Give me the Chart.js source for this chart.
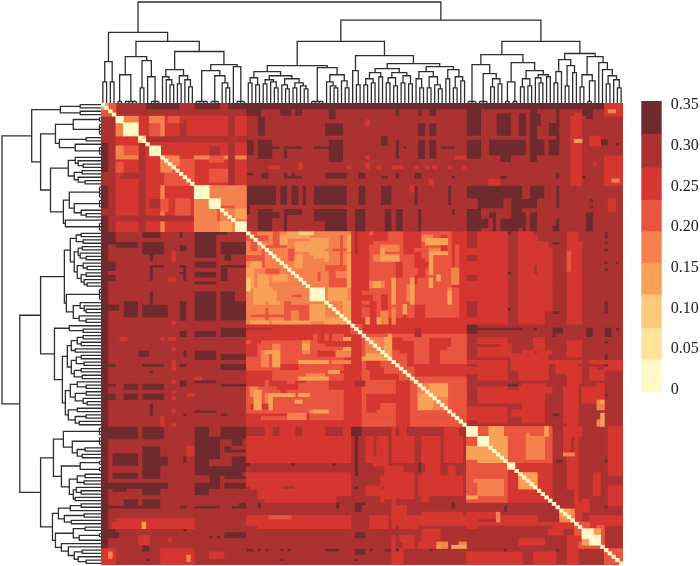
<!DOCTYPE html>
<html>
<head>
<meta charset="utf-8">
<title>Distance heatmap</title>
<script src="https://cdn.jsdelivr.net/npm/chart.js@4"></script>
<style>
    html, body { margin: 0; padding: 0; background: #fff; }
    body { position: relative; width: 700px; height: 566px; overflow: hidden; }
    canvas { position: absolute; }
    #heat { left: 101px; top: 103px; background: #ab3230; filter: blur(0.35px); }
    #topTree { left: 101px; top: 0; filter: blur(0.3px); }
    #leftTree { left: 0; top: 103px; filter: blur(0.3px); }
    #legend { left: 630px; top: 80px; }
</style>
</head>
<body>
<canvas id="topTree" width="522" height="103"></canvas>
<canvas id="leftTree" width="101" height="462"></canvas>
<canvas id="heat" width="522" height="462"></canvas>
<canvas id="legend" width="70" height="340"></canvas>
<script>
// --- Data ---

const leafCount = 140;

// colour classes, palest (index 0) to darkest (index 8)
const levelColors = ['#fff9c8', '#fee39a', '#fdc97a', '#f8a258', '#f4824f', '#ea5540', '#d5362f', '#ab3230', '#6f2a2d'];
const backgroundLevel = 7;
const diagonalLevel = 0;

// legend
const legendBreaks = [-0.0021, 0.0369, 0.0758, 0.1167, 0.1556, 0.1945, 0.2334, 0.2731, 0.3141, 0.355];
const legendTicks = [0, 0.05, 0.10, 0.15, 0.20, 0.25, 0.30, 0.35];

// the matrix is symmetric. every entry: [level, firstRow, lastRow, firstCol, lastCol], later ones on top
const blockPatches = [
    [6,0,38,0,38], [7,0,3,0,38], [5,0,3,0,3], [3,0,1,0,1],
    [7,10,11,12,38], [5,17,23,17,24], [4,16,18,17,20], [4,16,16,25,38], [4,4,9,16,16],
    [4,4,5,4,9], [4,4,5,13,15], [5,6,9,13,15], [5,4,5,18,20], [6,4,4,21,24], [7,6,9,21,21],
    [7,13,15,29,31], [5,16,17,29,32], [5,29,33,20,23],
    [7,34,35,0,24], [7,4,24,34,34], [7,22,22,5,9],
    [4,25,38,25,38], [3,32,34,36,38], [3,36,38,32,34], [5,31,31,32,35],

    [4,39,66,39,66], [5,39,66,67,97], [5,67,97,67,97], [5,70,97,39,66],
    [6,39,66,67,69], [7,70,97,67,69], [6,67,69,39,66], [6,67,69,70,97], [7,68,68,39,45],
    [6,39,66,96,97], [6,70,97,65,66],

    [6,39,66,98,109], [6,39,62,112,115], [6,44,62,117,120], [6,42,66,125,128],
    [7,39,43,98,100], [7,46,49,98,100], [7,60,64,98,100], [7,52,53,98,100], [7,42,43,98,100],
    [7,39,66,109,111], [6,63,66,112,118],

    [6,98,120,98,120], [5,108,120,98,108], [5,98,108,109,120], [4,114,118,100,107], [4,100,107,114,118],
    [5,98,100,101,103], [3,98,100,104,107], [3,101,107,104,108], [3,104,107,98,103],
    [5,98,100,115,120], [3,98,100,119,119], [3,112,115,112,116],
    [4,123,126,123,126], [6,121,127,127,128], [3,124,125,123,124], [5,135,139,135,139],
    [5,127,133,128,134], [3,129,133,131,133]
];

const fleckPatches = [
    // inside the upper orange block
    [3,39,40,50,55], [2,39,39,53,56], [3,42,44,52,55], [3,45,47,57,60], [5,41,41,57,60],
    [5,46,47,39,43], [5,49,50,60,66], [5,53,55,61,66], [5,61,62,50,55], [5,64,64,40,48],
    [5,43,43,44,49], [5,40,41,39,44], [5,50,51,44,47], [5,44,44,62,65], [5,58,58,50,53],
    [3,56,60,41,43], [3,56,59,44,45], [3,48,49,40,42], [3,52,53,46,49], [3,56,59,61,65],
    [3,66,66,40,44], [3,66,66,46,55], [3,65,66,60,66], [4,56,59,47,50],
    // orange block against its neighbour
    [4,40,41,84,88], [4,44,45,88,92], [4,45,50,88,88], [4,46,47,73,78], [4,43,44,75,79],
    [4,53,58,78,78], [4,54,55,72,75], [4,55,59,82,82], [4,53,55,88,88], [4,56,60,93,93],
    [4,61,66,75,76], [4,62,66,78,78], [3,65,66,71,74],
    [6,39,43,84,85], [6,47,51,85,86], [6,62,66,84,86], [6,62,65,81,81], [6,52,54,84,84],
    [6,61,61,68,73], [6,40,44,91,92], [6,52,55,94,95], [6,58,59,70,72],
    // middle band
    [6,70,71,39,56], [6,70,72,40,42], [6,73,76,39,41], [6,81,83,39,45], [6,85,86,49,52],
    [6,84,87,48,49], [6,85,86,61,64], [6,84,84,61,66], [6,84,85,45,49],
    [4,76,76,43,44], [3,78,78,53,60], [3,75,79,46,47], [3,73,74,54,55], [3,75,75,44,45],
    [3,83,83,53,60], [3,81,81,61,63], [6,75,76,58,62], [6,72,73,60,66], [6,79,80,48,52],
    [3,87,92,41,42], [3,88,88,45,51], [3,88,92,45,45], [3,88,88,53,55], [3,93,93,57,60],
    [3,90,90,52,53], [6,94,94,39,50], [6,95,96,39,42], [6,96,96,55,60], [4,94,95,50,54],
    [4,71,77,71,77], [3,72,73,76,77], [3,70,77,77,77], [3,76,76,71,76],
    [6,72,75,80,83], [6,78,80,71,74], [6,82,83,76,79], [6,74,78,88,90], [6,71,73,91,93],
    [6,84,97,79,82], [6,88,92,71,74], [7,84,85,68,70],
    [4,85,92,85,92], [3,88,92,85,88], [3,85,88,89,92],
    // lower part of the middle band against the right blocks
    [6,71,72,101,103], [6,74,75,101,104], [6,73,76,107,109], [6,72,74,116,117], [6,72,76,125,128],
    [6,75,75,113,115], [6,75,75,117,120],
    [6,78,78,98,102], [6,78,78,110,121], [6,78,78,123,128], [6,78,78,131,139],
    [6,80,81,98,102], [6,79,79,104,108], [6,80,83,112,119], [6,80,84,125,128], [6,81,83,131,134],
    [6,80,80,136,139], [6,86,88,101,104], [6,86,87,112,120], [6,86,88,125,127],
    [6,87,90,106,114], [6,92,95,98,103], [6,93,94,110,118], [6,85,97,125,127], [6,86,90,129,134],
    // left matrix columns against the rows below
    [6,101,108,71,72], [6,101,108,74,76], [6,101,108,78,83], [6,101,108,86,90], [6,101,108,92,96],
    [6,98,108,48,50], [6,110,119,76,80], [6,113,118,85,96], [6,122,127,78,81], [6,124,127,86,96],
    [6,133,134,85,90], [4,133,134,90,92], [4,133,134,96,97], [6,131,139,78,78], [6,135,139,79,80],
    [6,131,132,80,81], [6,112,116,40,48], [6,112,116,52,64], [6,117,119,42,50], [6,118,119,55,62],
    [6,125,127,39,66], [5,125,125,45,50], [6,116,118,71,74],
    // right blocks
    [6,98,112,136,139], [6,116,121,136,139], [6,125,127,132,139], [4,104,105,125,125],
    [3,90,92,134,134], [3,94,97,134,134], [4,134,134,91,92], [3,134,134,95,97],
    [6,124,125,101,106], [6,125,126,107,116], [4,124,126,106,106], [6,127,127,98,120],
    [6,132,133,112,118], [6,136,139,101,112], [6,124,128,98,100],
    [6,131,132,125,128], [6,129,130,120,123],
    // bright rows and columns at the far end
    [6,126,128,4,24], [3,127,128,11,11], [6,131,132,10,12], [6,132,132,18,18],
    [6,135,139,0,2], [3,136,137,1,2], [6,135,138,16,24], [6,136,137,29,32],
    [6,1,3,135,139], [4,2,2,136,137], [6,16,24,136,139], [4,23,23,137,138],
    [6,3,9,127,128], [6,15,19,127,128], [6,23,24,126,128], [6,10,12,131,133], [6,23,24,104,106],
    [6,19,19,45,47], [6,18,19,53,53], [6,19,19,66,66], [6,18,19,71,71], [6,19,19,74,74],
    [6,19,19,78,80], [6,19,19,84,84], [6,19,19,87,87], [6,19,19,89,89], [6,19,19,93,93],
    [6,19,19,97,97], [6,16,16,95,97], [6,16,16,71,71], [6,5,6,71,71], [6,25,26,83,84], [6,23,24,88,88]
];

const darkPatches = [
    [8,0,1,39,134], [8,0,1,12,20], [8,0,1,25,31], [8,0,1,36,38],
    [8,12,20,0,1], [8,34,38,0,1],
    [8,2,3,39,42], [8,2,3,48,50], [8,2,3,52,53], [8,2,4,61,62], [8,2,3,79,79], [8,2,3,85,85], [8,2,3,88,89],
    [8,4,5,42,43], [8,6,9,42,43], [8,6,9,60,64], [8,10,12,75,76], [8,6,9,85,86], [8,6,9,88,89],
    [8,2,9,98,101], [8,3,9,106,109], [8,3,9,112,113], [8,2,12,115,116], [8,3,6,117,117],
    [8,6,9,120,121], [8,2,15,122,122], [8,1,3,129,131],
    [8,11,16,98,100], [8,11,15,104,113], [8,16,17,107,109], [8,11,17,115,116], [8,11,15,117,118],
    [8,11,15,120,121], [8,11,12,134,135], [8,12,12,138,138],
    [8,11,15,39,40], [8,11,16,42,45], [8,13,13,46,47], [8,13,13,49,53], [8,13,16,49,49],
    [8,13,13,57,64], [8,11,17,61,64], [8,11,16,79,79], [8,13,13,81,81], [8,11,16,85,86],
    [8,11,16,88,89], [8,13,13,91,92], [8,13,13,93,94], [8,11,16,101,101],
    [8,21,21,39,40], [8,21,22,43,44], [8,22,22,49,53], [8,21,21,49,49], [8,21,21,51,51],
    [8,21,22,60,65], [8,21,22,69,70], [8,22,22,75,76], [8,21,22,79,79], [8,21,22,84,85],
    [8,22,22,94,94], [8,22,22,107,108], [8,21,22,122,122], [8,22,22,129,129],
    [8,25,30,39,46], [8,25,30,48,49], [8,25,30,51,52], [8,25,30,54,54], [8,25,30,57,65],
    [8,25,30,69,70], [8,25,30,75,77], [8,25,30,84,84], [8,25,30,93,93], [8,25,28,98,109],
    [8,29,31,101,107], [8,25,34,110,112], [8,29,31,113,116], [8,25,28,115,116], [8,25,28,117,118],
    [8,25,31,122,122], [8,32,33,98,100], [8,33,34,104,105], [8,33,34,113,113], [8,33,34,115,116],
    [8,35,37,98,103], [8,35,37,105,105], [8,35,37,107,109], [8,35,37,110,112], [8,35,37,113,113],
    [8,35,37,115,116], [8,35,37,122,122], [8,33,37,130,131], [8,38,38,109,109],
    [8,31,33,39,39], [8,32,38,42,45], [8,33,34,46,47], [8,32,38,49,49], [8,32,33,50,53],
    [8,32,35,57,60], [8,32,38,60,65], [8,32,38,68,70], [8,32,38,76,77], [8,32,38,79,80],
    [8,32,38,85,85], [8,32,33,94,94], [8,32,33,98,101], [8,34,38,98,101],
    [8,37,37,98,103], [8,37,38,105,105], [8,37,38,107,108], [8,37,38,110,111], [8,37,38,113,113],
    [8,37,38,115,116], [8,37,38,121,122], [8,37,38,130,131],
    [8,40,40,135,135], [8,42,42,135,135], [8,44,44,135,135], [8,48,48,135,135], [8,48,48,138,138],
    [8,50,50,135,135], [8,60,62,135,135], [8,42,42,121,122], [8,51,51,109,109], [8,62,62,109,109],
    [8,63,63,121,122],
    [8,67,69,98,100], [8,68,68,98,103], [8,68,68,106,112], [8,68,70,121,121], [8,69,70,130,131],
    [8,68,70,135,136], [8,68,68,138,138], [8,85,85,109,111],
    [8,109,109,39,39], [8,109,109,51,51], [8,109,109,62,62], [8,109,111,85,85],
    [8,100,112,68,68], [8,98,100,68,69], [8,116,116,68,68],
    [8,121,121,37,38], [8,121,121,42,42], [8,121,121,63,63], [8,121,121,68,70], [8,122,123,68,69],
    [8,121,121,94,94], [8,130,131,37,38], [8,130,131,68,70],
    [8,135,135,39,39], [8,135,135,42,42], [8,135,135,44,44], [8,135,135,48,48], [8,135,135,50,50],
    [8,135,135,60,63], [8,135,135,68,70], [8,135,135,72,72], [8,135,135,76,77], [8,135,135,79,79],
    [8,135,135,88,88], [8,136,136,70,70], [8,138,138,48,48], [8,138,138,68,68],
    [8,94,94,122,122], [8,108,108,122,123], [8,123,123,108,108], [8,88,88,135,135],
    [8,108,108,135,135], [8,122,122,135,135],
    [8,130,131,0,4], [8,131,131,29,29], [8,131,131,31,31], [8,130,131,33,38], [8,135,135,11,12]
];

// pale squares along the diagonal
const paleBlocks = [
    [0,4,5,4,5], [0,6,9,6,9], [0,13,15,13,15], [0,25,28,25,28], [0,29,31,29,31], [0,36,38,36,38],
    [0,56,59,56,59], [0,98,100,98,100], [0,101,103,101,103], [0,109,110,109,110],
    [0,130,131,129,130], [0,132,133,131,132], [2,10,11,10,11]
];

// cluster tree, shared by both dendrograms: [height, left, right].
// a plain number is that many leaves joined almost at the bottom
const branchA = [70,
    [41, [21,1,1], [21,1,1]],
    [61,
        [46, [28,2,4], [42, [15,1,1], [26,1,3]]],
        [51,
            [33, [26,1,[23,1,[18,1,1]]], [27,[19,1,1],[23,1,[16,1,1]]]],
            [38, [32,4,[27,3,[20,1,[15,1,1]]]], [36,1,3]]
        ]
    ]
];
const branchB1 = [61,
    [37,
        [31,
            [25,[20,1,1],[18,1,1]],
            [27,[23,[19,1,1],[21,1,[15,1,1]]],[24,[18,1,[14,1,1]],[20,[15,1,1],[17,1,[14,1,1]]]]]
        ],
        [35,4,[28,[21,1,[17,1,[15,1,1]]],[22,1,[15,1,1]]]]
    ],
    [47,
        [32,1,[18,1,1]],
        [39,
            [34,
                [30,[24,[18,1,1],[20,1,1]],[26,1,1]],
                [30,[25,[20,1,1],[17,1,1]],[27,[20,1,1],[19,1,1]]]
            ],
            [36,
                [31,[24,1,[15,1,1]],[26,[15,1,1],[18,1,[14,1,1]]]],
                [33,[24,1,1],[26,[15,1,1],[22,1,1]]]
            ]
        ]
    ]
];
const branchB2 = [61,
    [48,
        [38,3,[29,3,[24,[16,1,1],[19,1,1]]]],
        [40,
            [21,2,2],
            [32,[24,[16,1,1],[17,1,1]],[28,[25,1,[20,1,1]],[26,1,1]]]
        ]
    ],
    [49,
        [43,[31,[20,1,1],1],[37,[17,1,1],[30,1,1]]],
        [46,
            [28,[16,1,1],[22,2,1]],
            [40,1,[33,1,[27,[19,1,1],[23,1,[15,1,1]]]]]
        ]
    ]
];
const treeRoot = [100, branchA, [82, branchB1, branchB2]];

// --- Matrix ---
const matrix = [];
for (let r = 0; r < leafCount; r++) {
    matrix.push(new Array(leafCount).fill(backgroundLevel));
}
function applyPatches(list) {
    list.forEach(function (p) {
        for (let r = p[1]; r <= p[2]; r++) {
            for (let c = p[3]; c <= p[4]; c++) {
                matrix[r][c] = p[0];
                matrix[c][r] = p[0];
            }
        }
    });
}
applyPatches(blockPatches);
applyPatches(fleckPatches);
applyPatches(darkPatches);
applyPatches(paleBlocks);
for (let i = 0; i < leafCount; i++) matrix[i][i] = diagonalLevel;

// one floating bar per run of equal cells in a row, one dataset per colour
const heatDatasets = levelColors.map(function (color) {
    return { data: [], backgroundColor: color, borderWidth: 0, grouped: false, barPercentage: 1, categoryPercentage: 1 };
});
matrix.forEach(function (row, r) {
    let start = 0;
    for (let c = 1; c <= leafCount; c++) {
        if (c === leafCount || row[c] !== row[start]) {
            heatDatasets[row[start]].data.push({ x: [start, c], y: r + 0.5 });
            start = c;
        }
    }
});

new Chart(document.getElementById('heat'), {
    type: 'bar',
    data: { datasets: heatDatasets },
    options: {
        indexAxis: 'y',
        responsive: false,
        animation: false,
        events: [],
        plugins: { legend: { display: false }, tooltip: { enabled: false } },
        scales: {
            x: { type: 'linear', min: 0, max: leafCount, display: false },
            y: { type: 'linear', min: 0, max: leafCount, reverse: true, offset: false, display: false }
        }
    }
});

// --- Dendrograms ---
function treeSegments(root) {
    const segments = [];
    let nextLeaf = 0.5;
    function walk(node) {
        if (typeof node === 'number') {
            if (node === 1) return { pos: nextLeaf++, h: 0 };
            const first = nextLeaf;
            for (let i = 0; i < node; i++) {
                segments.push([nextLeaf, 0], [nextLeaf, 1.5], [NaN, NaN]);
                nextLeaf++;
            }
            const last = nextLeaf - 1;
            segments.push([first, 1.5], [last, 1.5], [NaN, NaN]);
            return { pos: (first + last) / 2, h: 1.5 };
        }
        const a = walk(node[1]);
        const b = walk(node[2]);
        segments.push([a.pos, a.h], [a.pos, node[0]], [b.pos, node[0]], [b.pos, b.h], [NaN, NaN]);
        return { pos: (a.pos + b.pos) / 2, h: node[0] };
    }
    walk(root);
    return segments;
}
const segments = treeSegments(treeRoot);

function treeChart(id, points, xScale, yScale) {
    new Chart(document.getElementById(id), {
        type: 'scatter',
        data: {
            datasets: [{
                data: points,
                showLine: true,
                spanGaps: false,
                pointRadius: 0,
                borderColor: '#2e2e2e',
                borderWidth: 1.3,
                tension: 0
            }]
        },
        options: {
            responsive: false,
            animation: false,
            events: [],
            plugins: { legend: { display: false }, tooltip: { enabled: false } },
            scales: { x: xScale, y: yScale }
        }
    });
}
const leafAxis = { type: 'linear', min: 0, max: leafCount, display: false };
treeChart('topTree', segments.map(function (s) { return { x: s[0], y: s[1] }; }),
    leafAxis,
    { type: 'linear', min: 0, max: 102, display: false });
treeChart('leftTree', segments.map(function (s) { return { x: s[1], y: s[0] }; }),
    { type: 'linear', min: 0, max: 102, reverse: true, display: false },
    { type: 'linear', min: 0, max: leafCount, reverse: true, display: false });

// --- Colour legend ---
new Chart(document.getElementById('legend'), {
    type: 'bar',
    data: {
        labels: [''],
        datasets: levelColors.map(function (color, i) {
            return {
                data: [[legendBreaks[i], legendBreaks[i + 1]]],
                backgroundColor: color,
                borderWidth: 0,
                grouped: false,
                barPercentage: 1,
                categoryPercentage: 1
            };
        })
    },
    options: {
        responsive: false,
        animation: false,
        events: [],
        layout: { padding: { top: 21, bottom: 28.3, left: 11.3, right: 0 } },
        plugins: { legend: { display: false }, tooltip: { enabled: false } },
        scales: {
            x: { display: false },
            y: {
                position: 'right',
                min: legendBreaks[0],
                max: legendBreaks[legendBreaks.length - 1],
                grid: { display: false, drawTicks: false },
                border: { display: false },
                afterBuildTicks: function (axis) {
                    axis.ticks = legendTicks.map(function (v) { return { value: v }; });
                },
                afterFit: function (axis) { axis.width = 38.3; },
                ticks: {
                    padding: 9,
                    color: '#222',
                    font: { family: 'Liberation Serif', size: 16 },
                    callback: function (v) { return v === 0 ? '0' : v.toFixed(2); }
                }
            }
        }
    }
});
</script>
</body>
</html>
